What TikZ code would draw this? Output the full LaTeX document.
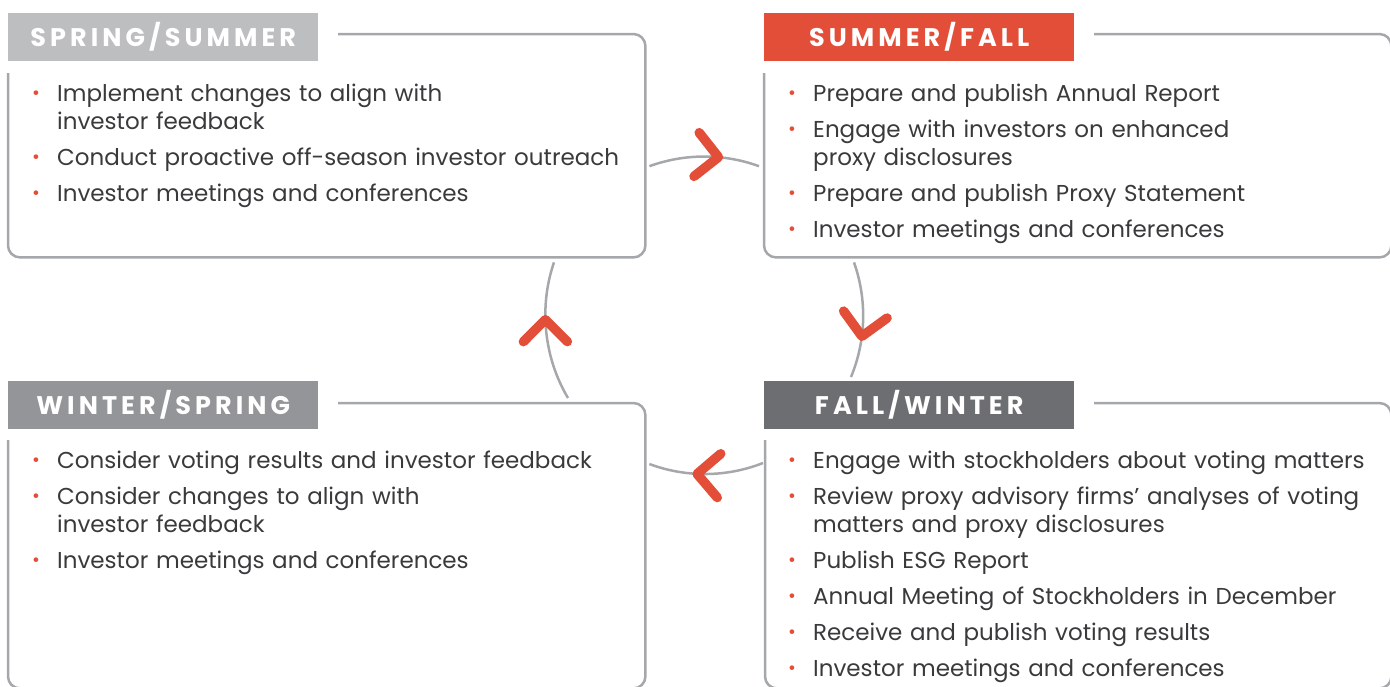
\documentclass[tikz,border=0pt]{standalone}
\usepackage{fontspec}
\setmainfont{Poppins}
\usetikzlibrary{positioning,arrows.meta,decorations.markings}

\definecolor{seasonred}{HTML}{E34E38}
\definecolor{lightgrey}{HTML}{BCBEC0}
\definecolor{midgrey}{HTML}{939598}
\definecolor{darkgrey}{HTML}{6D6E71}
\definecolor{framegrey}{HTML}{A5A7AA}
\definecolor{ink}{HTML}{3A3A3C}

\newcommand\tabfont{\fontsize{25.5}{25.5}\selectfont\bfseries\addfontfeature{LetterSpace=16}}
\newcommand\bul[1]{\par\hangindent=24pt\hangafter=1\noindent
  \hbox to 24pt{\hspace{-1pt}\raisebox{1.5pt}{\fontsize{19}{19}\selectfont\textcolor{seasonred}{\textbullet}}\hss}#1\par}

\tikzset{chev/.tip={Straight Barb[length=22pt,width=44pt,line width=9.5pt,round,color=seasonred]}}

\begin{document}
\begin{tikzpicture}[x=1pt,y=-1pt,
    card/.style 2 args={minimum width=#1,minimum height=#2,inner sep=0,anchor=north west},
    frame/.style={draw=framegrey,line width=2.5pt,rounded corners=12pt},
    tab/.style={fill=#1,text=white,minimum width=310pt,minimum height=48pt,inner sep=0,font=\tabfont,anchor=north west},
    items/.style={text width=600pt,align=left,inner sep=0,text=ink,anchor=base west,
      font=\fontsize{23}{28}\selectfont\setlength\parskip{8pt}},
    cycle/.style={draw=framegrey,line width=2.5pt,looseness=.88,postaction={decorate},
      decoration={markings,mark=at position #1 with {\arrow{chev}}}}]
  \useasboundingbox (0,0) rectangle (1390,686);

  % the four season cards
  \node[card={637pt}{223pt}] (spring) at (8,34) {};
  \node[card={627pt}{223pt}] (summer) at (764,34) {};
  \node[card={626pt}{285pt}] (fall) at (765,403) {};
  \node[card={637pt}{285pt}] (winter) at (8,403) {};

  % open outlines, the tab sits in the gap
  \draw[frame] ([xshift=330pt]spring.north west) -| (spring.south east) -| ([yshift=-39pt]spring.north west);
  \draw[frame] ([xshift=330pt]summer.north west) -| (summer.south east) -| ([yshift=-39pt]summer.north west);
  \draw[frame] ([xshift=329pt]fall.north west) -| (fall.south east) -| ([yshift=-37pt]fall.north west);
  \draw[frame] ([xshift=330pt]winter.north west) -| (winter.south east) -| ([yshift=-37pt]winter.north west);

  % tabs
  \node[tab=lightgrey] (spring-tab) at ([yshift=21pt]spring.north west) {SPRING/SUMMER};
  \node[tab=seasonred] (summer-tab) at ([yshift=21pt]summer.north west) {SUMMER/FALL};
  \node[tab=darkgrey] (fall-tab) at ([xshift=-1pt,yshift=22pt]fall.north west) {FALL/WINTER};
  \node[tab=midgrey] (winter-tab) at ([yshift=22pt]winter.north west) {WINTER/SPRING};

  % bullet lists
  \node[items] (spring-list) at ([xshift=25pt,yshift=-31pt]spring.north west) {%
    \bul{Implement changes to align with\newline investor feedback}
    \bul{Conduct proactive off-season investor outreach}
    \bul{Investor meetings and conferences}};
  \node[items] (summer-list) at ([xshift=25pt,yshift=-31pt]summer.north west) {%
    \bul{Prepare and publish Annual Report}
    \bul{Engage with investors on enhanced\newline proxy disclosures}
    \bul{Prepare and publish Proxy Statement}
    \bul{Investor meetings and conferences}};
  \node[items] (fall-list) at ([xshift=24pt,yshift=-29pt]fall.north west) {%
    \bul{Engage with stockholders about voting matters}
    \bul{Review proxy advisory firms’ analyses of voting\newline matters and proxy disclosures}
    \bul{Publish ESG Report}
    \bul{Annual Meeting of Stockholders in December}
    \bul{Receive and publish voting results}
    \bul{Investor meetings and conferences}};
  \node[items] (winter-list) at ([xshift=25pt,yshift=-29pt]winter.north west) {%
    \bul{Consider voting results and investor feedback}
    \bul{Consider changes to align with\newline investor feedback}
    \bul{Investor meetings and conferences}};

  % the yearly cycle
  \draw[cycle=.67] ([xshift=4pt,yshift=-20.5pt]spring.east) to[bend left=20] ([xshift=-5pt,yshift=-20.5pt]summer.west);
  \draw[cycle=.68] ([xshift=90pt,yshift=-5pt]summer.south west) to[bend left=21] ([xshift=86pt,yshift=26pt]fall.north west);
  \draw[cycle=.62] ([xshift=-2pt,yshift=-60pt]fall.north west) to[bend left=21] ([xshift=4pt,yshift=-61pt]winter.north east);
  \draw[cycle=.62] ([xshift=560pt,yshift=5pt]winter.north west) to[bend left=25] ([xshift=546pt,yshift=-5pt]spring.south west);
\end{tikzpicture}
\end{document}
